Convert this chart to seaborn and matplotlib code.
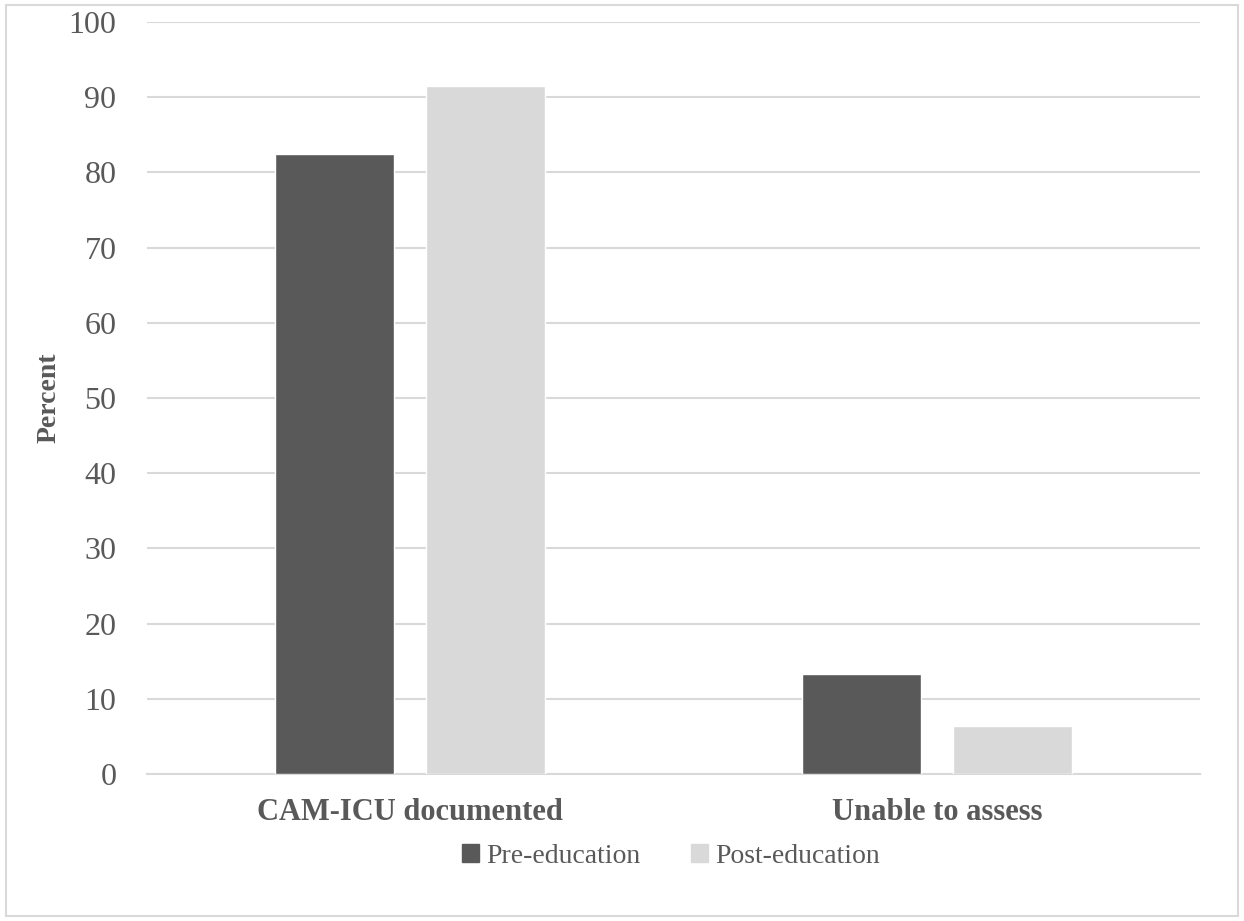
import matplotlib
matplotlib.use("Agg")
import matplotlib.pyplot as plt
import seaborn as sns
import pandas as pd
from matplotlib.patches import Rectangle

categories = ["CAM-ICU documented", "Unable to assess"]
series = ["Pre-education", "Post-education"]
pre_values = [82.4, 13.3]
post_values = [91.5, 6.4]
yticks = [0, 10, 20, 30, 40, 50, 60, 70, 80, 90, 100]

df = pd.DataFrame({
    "category": categories * 2,
    "series": [series[0]] * 2 + [series[1]] * 2,
    "value": pre_values + post_values,
})

sns.set_theme(style="white")
plt.rcParams['font.family'] = ['Liberation Serif', 'DejaVu Serif']

fig = plt.figure(figsize=(12.44, 9.21), dpi=100)
ax = fig.add_axes([147/1244, 1 - 774/921, (1200-147)/1244, (774-22)/921])

palette = {series[0]: "#595959", series[1]: "#d9d9d9"}
sns.barplot(data=df, x="category", y="value", hue="series", order=categories,
            hue_order=series, palette=palette, width=0.574, gap=0.21,
            saturation=1, ax=ax, legend=False, zorder=3)

ax.set_ylim(0, 100)
ax.set_yticks(yticks)
ax.set_xlim(-0.5, 1.5)
ax.yaxis.grid(True, color="#d9d9d9", linewidth=1.5, zorder=0)
ax.set_axisbelow(True)
for s in ["top", "right", "left"]:
    ax.spines[s].set_visible(False)
ax.spines["bottom"].set_color("#d9d9d9")
ax.spines["bottom"].set_linewidth(1.5)
ax.tick_params(axis="y", length=0, labelsize=23, labelcolor="#595959", pad=22)
ax.tick_params(axis="x", length=0, labelsize=22, labelcolor="#595959", pad=17)
for lbl in ax.get_xticklabels():
    lbl.set_fontweight("bold")
ax.set_xlabel("")
ax.set_ylabel("Percent", fontsize=20, fontweight="bold", color="#595959", labelpad=5)

handles = [Rectangle((0, 0), 1, 1, color=palette[s]) for s in series]
fig.legend(handles, series, loc="center", bbox_to_anchor=(671/1244, 1 - 856/921),
           ncol=2, frameon=False, fontsize=20, labelcolor="#595959",
           handlelength=0.6, handleheight=0.6, handletextpad=0.25, columnspacing=1.85)

fig.patches.append(Rectangle((6/1244, 5/921), 1 - 12/1244, 1 - 10/921,
                             transform=fig.transFigure, fill=False,
                             edgecolor="#d9d9d9", linewidth=1.5))

fig.savefig("out.png", dpi=100)
